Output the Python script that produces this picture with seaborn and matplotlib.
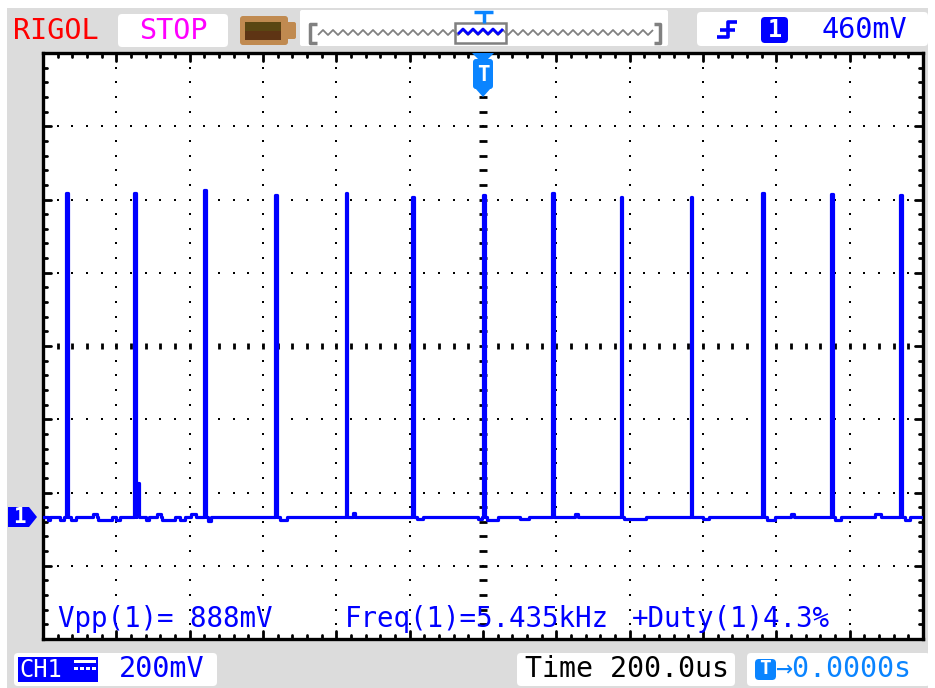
import numpy as np
import pandas as pd
import seaborn as sns
from matplotlib import pyplot as plt
from matplotlib import transforms
from matplotlib.patches import FancyBboxPatch, Rectangle, Polygon
from matplotlib.lines import Line2D

W, H = 935, 688

# scope settings
volt_div_mv = 200
time_div_us = 200
ground_offset_mv = 466   # ground marker sits ~2.33 div below screen centre
trigger_level = "460mV"

# pulses: rising edge (us from trigger) and top level (mV above ground)
pulse_start_us = [-1136, -951, -760, -566, -375, -193, 0, 189, 375, 566, 762, 950, 1138]
pulse_top_mv = [885, 885, 893, 877, 885, 874, 877, 885, 874, 874, 885, 880, 877]
pulse_width_us = 5

# small glitches on the baseline: start (us), length (us), level (mV)
glitch_start_us = [-1186, -1153, -1123, -1064, -1050, -1000, -946, -920, -889, -875,
                   -826, -796, -750, -555, -355, -180, -15, 12, 100, 250, 385, 600,
                   775, 840, 960, 1070, 1150]
glitch_len_us = [5, 10, 14, 11, 38, 11, 8, 8, 11, 35, 14, 14, 8, 20, 6, 15, 12, 30,
                 25, 10, 60, 15, 20, 8, 15, 15, 15]
glitch_mv = [-8, -8, -8, 8, -8, -8, 93, -8, 8, -8, -8, 8, -12, -8, 10, -6, -6, -8,
             -6, 8, -6, -6, -8, 8, -10, 8, -8]

measurements = ["Vpp(1)= 888mV", "Freq(1)=5.435kHz", "+Duty(1)4.3%"]
meas_x = [58, 345, 632]

# build the step trace
events = sorted([(s, pulse_width_us, h) for s, h in zip(pulse_start_us, pulse_top_mv)] +
                [(s, l, v) for s, l, v in zip(glitch_start_us, glitch_len_us, glitch_mv)])
t, v = [-6 * time_div_us], [0]
for s, l, lev in events:
    t += [s, s, s + l, s + l]
    v += [0, lev, lev, 0]
t.append(6 * time_div_us)
v.append(0)
trace = pd.DataFrame({"time_us": t, "mv": v})

sns.set_style("white")
plt.rcParams["font.family"] = ["DejaVu Sans Mono", "DejaVu Sans"]

fig = plt.figure(figsize=(W / 100, H / 100), dpi=100, facecolor="white")
# pixel coordinates with origin at top-left
pix = transforms.Affine2D().scale(1, -1).translate(0, H).scale(1 / 100) + fig.dpi_scale_trans

BLUE = "#0000ff"
LBLUE = "#0a84ff"
GREY = "#dcdcdc"
FS = 20


def rbox(x0, y0, x1, y1, fc="white", r=4, z=1, ec="none", lw=0):
    p = FancyBboxPatch((x0, y0), x1 - x0, y1 - y0, boxstyle=f"round,pad=0,rounding_size={r}",
                       fc=fc, ec=ec, lw=lw, transform=pix, zorder=z)
    fig.add_artist(p)
    return p


def txt(x, y, s, color, size=FS, ha="left", **kw):
    fig.text(x, y, s, color=color, fontsize=size, ha=ha, va="center", transform=pix, **kw)


def line(xs, ys, color, lw, z=2):
    fig.add_artist(Line2D(xs, ys, color=color, lw=lw, transform=pix, zorder=z,
                          solid_capstyle="butt"))


# grey frame
fig.add_artist(Rectangle((7, 8), 921, 680, fc=GREY, ec="none", transform=pix, zorder=-2))

# screen
ax = fig.add_axes([43 / W, 1 - 639 / H, 880 / W, 586 / H])
ax.set_facecolor("white")
sns.lineplot(data=trace, x="time_us", y="mv", sort=False, estimator=None,
             color=BLUE, lw=2.3, ax=ax, zorder=5)
ax.set_xlim(-6 * time_div_us, 6 * time_div_us)
ax.set_ylim(ground_offset_mv - 4 * volt_div_mv, ground_offset_mv + 4 * volt_div_mv)
ax.set_xticks([])
ax.set_yticks([])
ax.set_xlabel("")
ax.set_ylabel("")
for sp in ax.spines.values():
    sp.set_visible(True)
    sp.set_color("black")
    sp.set_linewidth(2.4)

# graticule (axes fraction)
tr = ax.transAxes
minor_x = np.arange(1, 60) / 60
minor_y = np.arange(1, 40) / 40
for k in range(1, 12):
    if k == 6:
        continue
    ax.scatter(np.full_like(minor_y, k / 12), minor_y, marker="s", s=4.5, color="black",
               lw=0, transform=tr, zorder=3)
for j in range(1, 8):
    if j == 4:
        continue
    ax.scatter(minor_x, np.full_like(minor_x, j / 8), marker="s", s=4.5, color="black",
               lw=0, transform=tr, zorder=3)
ax.scatter(np.full_like(minor_y, 0.5), minor_y, marker="_", s=40, color="black",
           linewidths=2.0, transform=tr, zorder=3)
ax.scatter(minor_x, np.full_like(minor_x, 0.5), marker="|", s=22, color="black",
           linewidths=2.0, transform=tr, zorder=3)

# border ticks
for i in range(1, 60):
    f = i / 60
    ln = 0.009 if i % 5 == 0 else 0.005
    ax.plot([f, f], [1, 1 - ln * 1.5], color="black", lw=2, transform=tr, zorder=3)
    ax.plot([f, f], [0, ln * 1.5], color="black", lw=2, transform=tr, zorder=3)
for i in range(1, 40):
    f = i / 40
    ln = 0.009 if i % 5 == 0 else 0.005
    ax.plot([0, ln], [f, f], color="black", lw=2, transform=tr, zorder=3)
    ax.plot([1, 1 - ln], [f, f], color="black", lw=2, transform=tr, zorder=3)

# measurement readouts
for s, x in zip(measurements, meas_x):
    txt(x, 619, s, BLUE, size=19.8)

# trigger position marker
fig.add_artist(Polygon([(472, 53), (494, 53), (487, 60), (479, 60)], closed=True,
                       fc=LBLUE, ec="none", transform=pix, zorder=6))
rbox(473, 59, 493, 89, fc=LBLUE, r=3, z=6)
fig.add_artist(Polygon([(475, 88), (491, 88), (483, 97)], closed=True,
                       fc=LBLUE, ec="none", transform=pix, zorder=6))
txt(483, 75, "T", "white", size=15, ha="center", weight="bold", zorder=7)

# channel 1 ground marker
fig.add_artist(Polygon([(8, 507), (29, 507), (37, 517), (29, 527), (8, 527)], closed=True,
                       fc=BLUE, ec="none", transform=pix, zorder=6))
txt(19, 517, "1", "white", size=15, ha="center", weight="bold", zorder=7)

# ---- top bar ----
txt(13, 31, "RIGOL", "#ff0000", size=20.5)
rbox(118, 14, 228, 47)
txt(173, 31, "STOP", "#ff00ff", size=20.5, ha="center", zorder=3)

# battery icon
rbox(240, 16, 288, 45, fc="#c08a50", r=3, z=2)
rbox(286, 22, 296, 39, fc="#c08a50", r=2, z=2)
fig.add_artist(Rectangle((245, 22), 36, 9, fc="#5a4612", ec="none", transform=pix, zorder=3))
fig.add_artist(Rectangle((245, 31), 36, 9, fc="#5e3414", ec="none", transform=pix, zorder=3))

# memory depth bar
rbox(300, 10, 668, 46, r=2)
line([317, 310, 310, 317], [24, 24, 43, 43], "#808080", 2.5)
line([654, 660, 660, 654], [24, 24, 43, 43], "#808080", 2.5)
wx = np.arange(318, 655, 5)
wy = np.where((np.arange(len(wx)) % 2) == 0, 35, 30)
line(wx, wy, "#808080", 1.3)
inside = (wx >= 456) & (wx <= 505)
line(wx[inside], wy[inside] - 1, BLUE, 2.0, z=3)
fig.add_artist(Rectangle((455, 23), 51, 20, fc="none", ec="#808080", lw=1.8,
                         transform=pix, zorder=3))
line([474, 493], [12, 12], LBLUE, 2.5, z=3)
line([483.5, 483.5], [12, 23], LBLUE, 2.5, z=3)

# trigger settings
rbox(697, 12, 928, 46)
line([737, 728, 728, 717], [22, 22, 37, 37], BLUE, 2.6, z=3)
line([720, 735], [30, 30], BLUE, 2.6, z=3)
rbox(761, 17, 788, 43, fc=BLUE, r=4, z=3)
txt(774.5, 30, "1", "white", size=17, ha="center", weight="bold", zorder=4)
txt(822, 30, trigger_level, BLUE, size=20.5, zorder=3)

# ---- bottom bar ----
rbox(14, 653, 217, 686)
fig.add_artist(Rectangle((18, 657), 80, 25, fc=BLUE, ec="none", transform=pix, zorder=2))
txt(19, 670, "CH1", "white", size=17, zorder=3)
fig.add_artist(Rectangle((74, 660), 22, 3, fc="white", ec="none", transform=pix, zorder=3))
for dx in (74, 80, 86, 92):
    fig.add_artist(Rectangle((dx, 667), 4, 3, fc="white", ec="none", transform=pix, zorder=3))
txt(119, 669, f"{volt_div_mv}mV", BLUE, size=20.5, zorder=3)

rbox(517, 653, 735, 686)
txt(525, 669, f"Time {time_div_us:.1f}us", "black", size=20.3, zorder=3)

rbox(747, 653, 930, 686)
rbox(755, 659, 776, 680, fc=LBLUE, r=4, z=3)
txt(765.5, 669, "T", "white", size=14, ha="center", weight="bold", zorder=4)
txt(775, 669, "→0.0000s", LBLUE, size=20.3, zorder=3)

fig.savefig("out.png", dpi=100)
